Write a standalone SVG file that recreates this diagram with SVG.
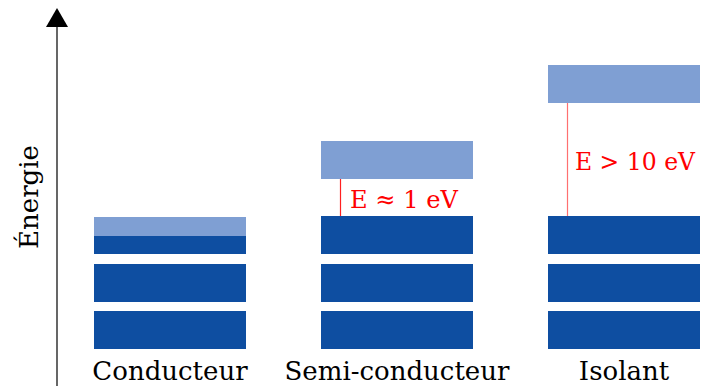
<svg xmlns="http://www.w3.org/2000/svg" width="702" height="387" viewBox="0 0 702 387">
<style>
.dark{fill:#0e4ea1}
.light{fill:#7f9fd3}
.lbl{font-family:"DejaVu Serif","Liberation Serif",serif;font-size:26px;fill:#000;text-anchor:middle}
.red{font-family:"DejaVu Serif","Liberation Serif",serif;font-size:25px;fill:#ff0000}
</style>
<rect width="702" height="387" fill="#fff"/>
<g id="axis">
<line x1="57" y1="386" x2="57" y2="26" stroke="#000" stroke-width="1.2"/>
<polygon points="46,27 68,27 57,8" fill="#000"/>
<text class="lbl" transform="translate(38,197) rotate(-90)">Énergie</text>
</g>
<g id="conducteur">
<rect class="light" x="94" y="217" width="152" height="19"/>
<rect class="dark" x="94" y="236" width="152" height="18"/>
<rect class="dark" x="94" y="264" width="152" height="38"/>
<rect class="dark" x="94" y="311" width="152" height="38"/>
<text class="lbl" x="170" y="380">Conducteur</text>
</g>
<g id="semiconducteur">
<rect class="light" x="321" y="141" width="152" height="38"/>
<rect class="dark" x="321" y="216" width="152" height="38"/>
<rect class="dark" x="321" y="264" width="152" height="38"/>
<rect class="dark" x="321" y="311" width="152" height="38"/>
<text class="lbl" x="397" y="380">Semi-conducteur</text>
</g>
<g id="isolant">
<rect class="light" x="548" y="65" width="152" height="38"/>
<rect class="dark" x="548" y="216" width="152" height="38"/>
<rect class="dark" x="548" y="264" width="152" height="38"/>
<rect class="dark" x="548" y="311" width="152" height="38"/>
<text class="lbl" x="624" y="380">Isolant</text>
</g>
<g id="connectors">
<line x1="340.5" y1="179" x2="340.5" y2="216" stroke="#ff2020" stroke-width="1.2"/>
<line x1="567.5" y1="103" x2="567.5" y2="216" stroke="#ff7070" stroke-width="1.2"/>
<text class="red" x="350" y="208" textLength="108" lengthAdjust="spacingAndGlyphs">E ≈ 1 eV</text>
<text class="red" x="575" y="170" textLength="120" lengthAdjust="spacingAndGlyphs">E &gt; 10 eV</text>
</g>
</svg>
